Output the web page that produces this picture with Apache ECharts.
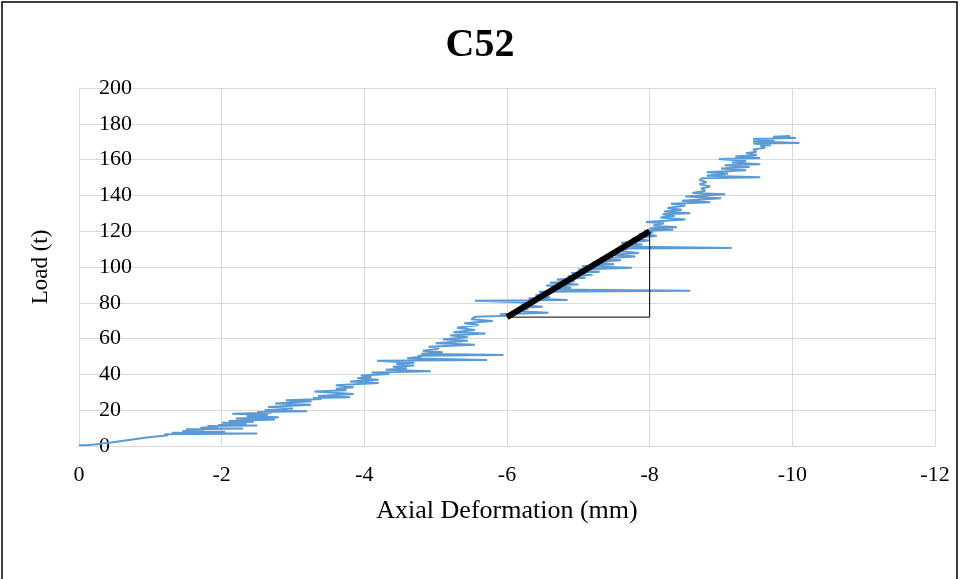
<!DOCTYPE html>
<html>
<head>
<meta charset="utf-8">
<script src="https://cdn.jsdelivr.net/npm/echarts@6/dist/echarts.min.js"></script>
<style>
  html, body { margin: 0; padding: 0; background: #fff; }
  #chart { width: 960px; height: 579px; }
</style>
</head>
<body>
<div id="chart"></div>
<script>
// Axial deformation (mm) of specimen C52, as recorded by the test frame
const deformation = [
  0, -0.12, -0.22, -0.45, -0.7, -0.95, -1.05, -1.25, -1.2,
  -2.5, -1.3, -2.05, -1.45, -1.75, -1.5, -2.3, -1.7, -1.95, -1.8,
  -2.5, -1.95, -2.35, -2.0, -2.45, -2.1, -2.75, -2.2, -2.8, -2.35,
  -2.65, -2.15, -2.7, -2.5, -3.2, -2.6, -3.0, -2.65, -3.25, -2.75,
  -3.26, -2.9, -3.4, -3.28, -3.8, -3.35, -3.85, -3.3, -3.75, -3.6,
  -3.85, -3.6, -4.2, -3.8, -4.2, -3.9, -4.1, -3.95, -4.35, -4.1,
  -4.93, -4.3, -4.6, -4.4, -4.7, -4.45, -4.7, -4.35,
  -4.18, -5.72, -4.6, -4.8, -4.75, -5.95, -4.8, -5.1, -4.82,
  -5.05, -4.9, -5.55, -5.0, -5.45, -5.1, -5.45, -5.2, -5.7, -5.25,
  -5.55, -5.3, -5.6, -5.4, -5.8, -5.5,
  -5.55, -6.02, -5.9, -6.58, -6.1, -6.3, -6.15, -6.5, -6.2,
  -6.4, -5.55, -6.85, -6.3, -6.6, -6.4, -6.6, -6.45, -8.57, -6.6,
  -6.9, -6.55, -7.0, -6.6, -6.95, -6.7, -7.1, -6.85, -7.2, -6.9,
  -7.3, -7.0, -7.75, -7.05, -7.5, -7.2, -7.6, -7.3, -7.8, -7.45,
  -7.85, -7.55, -7.7, -7.6, -9.15, -7.6,
  -7.9, -7.6, -8.0, -7.75, -8.1, -7.85, -8.05, -7.92, -8.33, -8.0,
  -8.38, -8.05, -8.2, -7.95, -8.5, -8.15, -8.35, -8.18, -8.57, -8.2,
  -8.45, -8.25, -8.5, -8.3, -8.85, -8.45, -9.0, -8.5, -9.06, -8.6,
  -8.78, -8.72, -8.85, -8.7, -8.8, -8.7, -8.74,
  -9.55, -8.8, -9.1, -8.8, -9.35, -9.0, -9.4, -9.05, -9.55, -9.15,
  -9.35, -8.97, -9.55, -9.2, -9.5, -9.35,
  -9.5, -9.45, -9.62, -9.55, -9.7,
  -9.45, -10.1, -9.45, -9.75, -9.45, -10.05, -9.73, -9.97, -9.8
];

// Applied load (t) at each reading
const load = [
  0.4, 0.5, 0.9, 2.0, 3.4, 4.8, 5.2, 6.0, 6.6,
  7.0, 7.4, 8.0, 8.4, 8.9, 9.3, 9.8, 10.2, 10.8, 11.2,
  11.4, 11.8, 12.6, 13.0, 13.6, 14.0, 14.8, 15.3, 16.0, 16.6,
  17.4, 18.0, 18.6, 19.0, 19.4, 20.0, 21.0, 21.8, 23.0, 23.8,
  25.0, 25.6, 26.2, 26.8, 27.2, 28.0, 29.0, 30.5, 31.2, 32.0,
  32.8, 34.0, 35.2, 36.0, 37.0, 37.8, 38.6, 39.4, 40.2, 41.0,
  41.8, 42.6, 43.5, 44.3, 45.0, 45.8, 46.5, 47.2,
  47.6, 48.0, 49.0, 49.8, 50.4, 50.9, 51.6, 52.4, 53.2,
  54.4, 55.4, 56.6, 57.4, 58.8, 59.6, 60.8, 61.8, 62.8, 63.6,
  64.8, 66.0, 67.6, 68.6, 69.8, 70.8,
  72.2, 72.8, 73.6, 74.4, 75.4, 76.4, 77.2, 77.8, 78.8,
  80.0, 81.2, 81.6, 82.4, 83.2, 84.2, 85.4, 86.2, 86.8, 87.4,
  88.6, 89.6, 90.2, 91.2, 92.0, 93.0, 94.0, 94.8, 95.6, 96.6,
  97.4, 98.6, 99.6, 100.4, 101.6, 102.6, 103.8, 104.8, 105.8, 106.8,
  107.8, 109.0, 110.0, 110.4, 110.6, 111.4,
  112.6, 113.6, 114.8, 115.8, 117.4, 118.4, 119.4, 120.2, 120.8, 121.6,
  122.2, 123.2, 124.4, 125.2, 126.6, 127.6, 128.6, 129.4, 130.0, 131.0,
  132.0, 133.0, 134.4, 135.4, 136.2, 137.0, 138.4, 139.4, 140.6, 141.4,
  142.6, 143.8, 145.0, 146.2, 147.4, 148.6, 149.6,
  150.2, 151.0, 152.2, 153.0, 154.0, 155.0, 155.8, 156.8, 157.4, 158.4,
  159.2, 160.4, 160.9, 161.8, 162.6, 163.6,
  164.4, 165.6, 166.6, 167.6, 168.2,
  169.0, 169.3, 170.2, 170.6, 171.6, 172.0, 172.8, 173.2, 172.6
];

// Secant used for the stiffness estimate, and its construction triangle
const secantX = [-6, -8];
const secantY = [72, 120];
const triangleX = [-6, -8, -8];
const triangleY = [72, 72, 120];

// Axis ticks
const xTicks = { min: -12, max: 0, step: 2 };
const yTicks = { min: 0, max: 200, step: 20 };

const zip = (xs, ys) => xs.map((x, i) => [x, ys[i]]);

const font = '"Liberation Serif", "Times New Roman", serif';
const gridColor = '#d9d9d9';

const chart = echarts.init(document.getElementById('chart'), null, { renderer: 'canvas' });

chart.setOption({
  backgroundColor: '#ffffff',
  animation: false,
  title: {
    text: 'C52',
    left: 'center',
    top: 21,
    textStyle: { fontFamily: font, fontSize: 40, fontWeight: 'bold', color: '#000' }
  },
  grid: { left: 79, right: 25, top: 88, bottom: 133, containLabel: false },
  xAxis: {
    type: 'value',
    inverse: true,
    min: xTicks.min,
    max: xTicks.max,
    interval: xTicks.step,
    name: 'Axial Deformation (mm)',
    nameLocation: 'middle',
    nameGap: 52,
    nameTextStyle: { fontFamily: font, fontSize: 26, color: '#000' },
    axisLine: { show: true, lineStyle: { color: gridColor, width: 1 } },
    axisTick: { show: false },
    axisLabel: { fontFamily: font, fontSize: 22, color: '#000', margin: 18 },
    splitLine: { show: true, lineStyle: { color: gridColor, width: 1 } }
  },
  yAxis: {
    type: 'value',
    min: yTicks.min,
    max: yTicks.max,
    interval: yTicks.step,
    name: 'Load (t)',
    nameLocation: 'middle',
    nameGap: 27,
    nameTextStyle: { fontFamily: font, fontSize: 23, color: '#000' },
    axisLine: { show: true, lineStyle: { color: gridColor, width: 1 } },
    axisTick: { show: false },
    axisLabel: { inside: true, fontFamily: font, fontSize: 22, color: '#000', margin: 20 },
    splitLine: { show: true, lineStyle: { color: gridColor, width: 1 } }
  },
  series: [
    {
      name: 'C52',
      type: 'line',
      data: zip(deformation, load),
      showSymbol: false,
      symbol: 'none',
      sampling: null,
      lineStyle: { color: '#5B9BD5', width: 2 },
      z: 2
    },
    {
      name: 'triangle',
      type: 'line',
      data: zip(triangleX, triangleY),
      showSymbol: false,
      symbol: 'none',
      lineStyle: { color: '#000', width: 1 },
      z: 3
    },
    {
      name: 'secant',
      type: 'line',
      data: zip(secantX, secantY),
      showSymbol: false,
      symbol: 'none',
      lineStyle: { color: '#000', width: 6, cap: 'butt' },
      z: 4
    }
  ],
  graphic: [
    {
      type: 'rect',
      shape: { x: 2, y: 2, width: 955, height: 600 },
      style: { fill: null, stroke: '#000', lineWidth: 1.5 },
      silent: true,
      z: 100
    }
  ]
});
</script>
</body>
</html>
